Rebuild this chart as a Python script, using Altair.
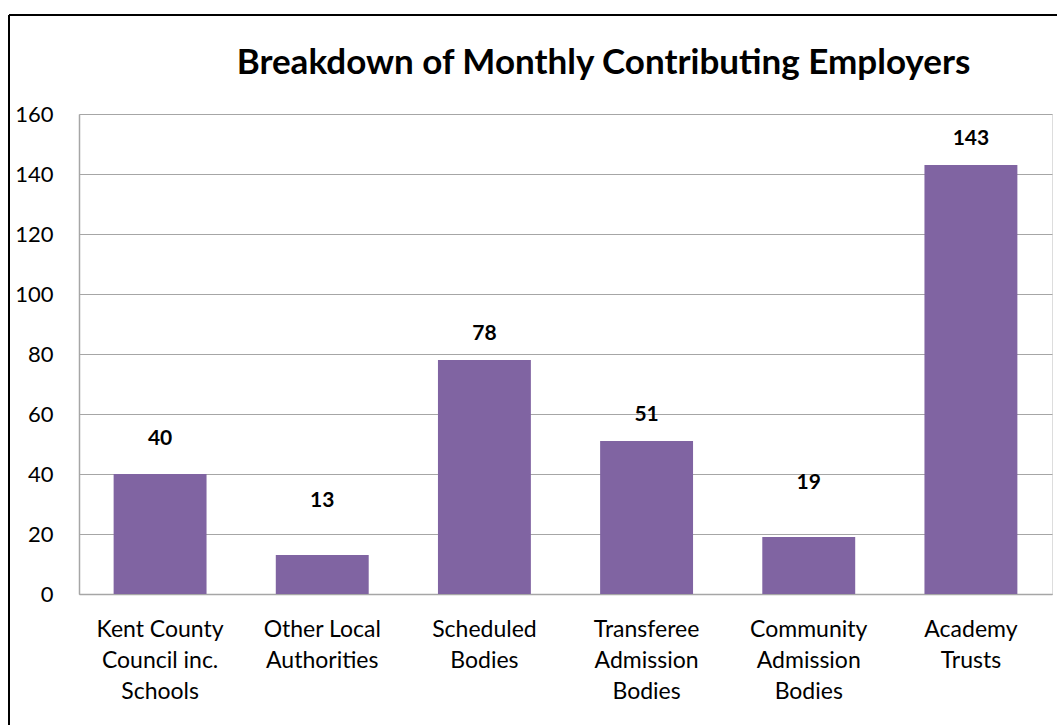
import altair as alt
import pandas as pd

# ---- data ----
categories = [
    "Kent County|Council inc.|Schools",
    "Other Local|Authorities",
    "Scheduled|Bodies",
    "Transferee|Admission|Bodies",
    "Community|Admission|Bodies",
    "Academy|Trusts",
]
counts = [40, 13, 78, 51, 19, 143]
y_ticks = [0, 20, 40, 60, 80, 100, 120, 140, 160]
title_text = "Breakdown of Monthly Contributing Employers"

# ---- styling (label lift above each bar top, in pixels) ----
label_lift = [-29, -48, -20, -20, -48, -20]

df = pd.DataFrame({"cat": categories, "n": counts, "lift": label_lift})

FONT = "Lato"
PURPLE = "#8064A2"
GRID = "#A6A6A6"

x_enc = alt.X(
    "cat:N",
    sort=categories,
    scale=alt.Scale(paddingInner=0.427, paddingOuter=0.2135),
    axis=alt.Axis(
        title=None,
        labelAngle=0,
        labelExpr="split(datum.label, '|')",
        labelFont=FONT,
        labelFontSize=23,
        labelColor="#000000",
        labelLineHeight=31,
        labelPadding=24,
        labelBaseline="top",
        ticks=False,
        domainColor=GRID,
        domainWidth=1.5,
        labelLimit=300,
    ),
)
y_enc = alt.Y(
    "n:Q",
    scale=alt.Scale(domain=[0, 160], nice=False),
    axis=alt.Axis(
        title=None,
        values=y_ticks,
        labelFont=FONT,
        labelFontSize=22,
        labelColor="#000000",
        labelPadding=26,
        ticks=False,
        domainColor=GRID,
        domainWidth=1.5,
        gridColor=GRID,
        gridWidth=1.2,
    ),
)

bars = alt.Chart(df).mark_bar(color=PURPLE).encode(x=x_enc, y=y_enc)

label_layers = []
for lift in sorted(set(label_lift)):
    label_layers.append(
        alt.Chart(df)
        .transform_filter(alt.datum.lift == lift)
        .mark_text(
            font=FONT, fontSize=21, fontWeight="bold", color="#000000",
            baseline="alphabetic", align="center", dy=lift,
        )
        .encode(
            x=alt.X("cat:N", sort=categories),
            y=alt.Y("n:Q"),
            text=alt.Text("n:Q"),
        )
    )

frame_v = alt.Chart(df).mark_rule(color="#000000", strokeWidth=1.5, clip=False).encode(
    x=alt.value(-70), y=alt.value(-99), y2=alt.value(640)
)
frame_h = alt.Chart(df).mark_rule(color="#000000", strokeWidth=1.5, clip=False).encode(
    x=alt.value(-70), x2=alt.value(1010), y=alt.value(-99)
)

chart = (
    alt.layer(frame_v, frame_h, bars, *label_layers)
    .properties(
        width=973,
        height=480,
        title=alt.TitleParams(
            title_text,
            font=FONT,
            fontSize=35,
            fontWeight="bold",
            color="#000000",
            anchor="middle",
            baseline="alphabetic",
            dx=38,
            offset=-95,
        ),
        autosize=alt.AutoSizeParams(type="none"),
        padding={"left": 79, "top": 114, "right": 5, "bottom": 131},
    )
    .configure_view(stroke=None)
    .configure(background="#FFFFFF")
)

chart.save("out.html", embed_options={"renderer": "svg", "actions": False})
